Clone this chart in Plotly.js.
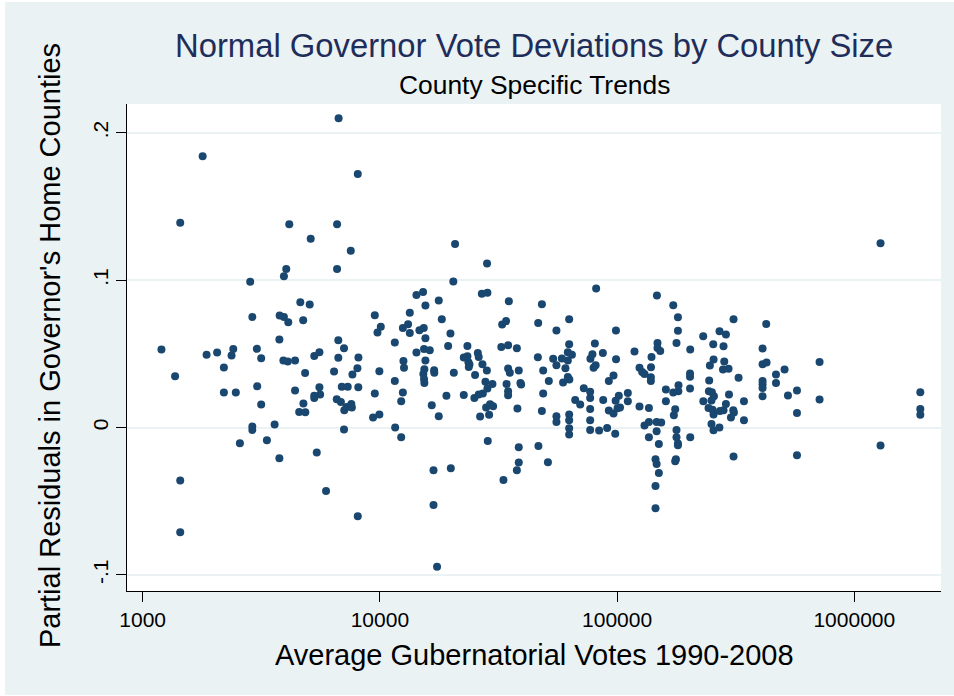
<!DOCTYPE html>
<html>
<head>
<meta charset="utf-8">
<script src="https://cdn.plot.ly/plotly-3.0.1.min.js"></script>
<style>
  html, body { margin: 0; padding: 0; background: #ffffff; }
  #chart { position: absolute; left: 5px; top: 2px; width: 949px; height: 693px; }
</style>
</head>
<body>
<div id="chart"></div>
<script>
// Average gubernatorial votes 1990-2008 (x) and partial residuals (y)
const votes = [
  6700,1790,8070,1440,4150,6600,5110,7540,4030,6600,
  3940,2840,4620,5060,2900,3780,3940,4110,4750,9520,
  10090,9770,11560,3770,6680,7060,
  1200,1860,2060,2410,2370,3030,3160,6680,8120,1370,
  2200,3920,4090,4390,5290,5560,4840,6410,7660,8040,
  9950,11560,2200,2470,3040,3160,4390,5560,5290,5600,
  5290,4760,4570,4850,6910,7320,8110,6580,6850,7580,
  7080,7620,7240,9520,9360,9950,12300,11600,12300,2900,
  2900,3600,7060,2570,3340,3770,5420,1440,5930,8070,
  1440,
  20750,28300,20400,14260,15210,15560,13370,17710,26900,28400,
  34970,48200,81600,147200,18240,12500,13150,13370,14680,15310,
  15560,19840,19400,23390,32770,34060,32500,34720,37800,46500,
  55500,62800,62800,80600,98900,14260,15350,16230,
  15560,12570,12640,15400,15250,15350,15400,16930,16960,20500,
  12500,16550,17710,19080,22580,22580,23390,23620,23860,25880,
  26100,27060,23700,25200,28250,27860,29820,28400,25030,26100,
  27170,28050,29150,30020,28870,26460,28500,16830,19910,16830,
  17420,34720,35300,38500,34200,34720,34720,39140,39400,38000,
  38500,38500,37800,33190,46350,53770,55500,58500,60560,62000,
  64500,62000,48800,51550,59200,62000,62900,48800,48200,55500,
  55500,62800,62800,62800,62800,46600,51100,66600,69900,72400,
  77000,77000,77000,77000,77000,84000,90800,98200,77200,78700,
  87100,79600,81200,99000,87400,92300,96600,100400,98600,101700,
  102900,92300,96600,111000,111000,118400,124300,127600,130500,138800,
  138800,139700,148000,148000,152000,124300,136200,130500,136200,136200,
  146800,146800,150000,145200,146800,150000,145200,145200,
  1290000,172500,180500,180500,178000,309700,425300,230700,270300,287600,
  254300,281000,203400,410500,255100,246100,283000,279500,295100,139000,
  203000,203000,244500,325200,160600,172500,181200,181500,203000,160600,
  175800,173500,153500,178000,178000,180500,180500,203400,177000,175800,
  231000,243800,251100,256000,250000,242900,252600,255100,271400,281000,
  287600,308900,310800,301900,342600,342600,296300,250000,255000,270000,
  309700,410500,426700,467600,508200,467600,410500,410500,410500,410500,
  525200,573200,573200,713800,713800,573200,1290000,1898000,1898000,1898000
];
const residuals = [
  0.2098,0.184,0.172,0.139,0.138,0.138,0.128,0.120,0.1075,0.1075,
  0.1027,0.0989,0.085,0.0835,0.075,0.076,0.075,0.0715,0.0728,0.0762,
  0.0683,0.0645,0.0577,0.0597,0.0593,0.0538,
  0.053,0.0493,0.0509,0.0532,0.0489,0.0534,0.047,0.0473,0.0475,0.0348,
  0.0407,0.0455,0.0448,0.0455,0.0486,0.0511,0.037,0.038,0.036,0.0403,
  0.0382,0.0316,0.0238,0.0238,0.028,0.0156,0.0251,0.0274,0.0201,0.0224,
  0.0215,0.0163,0.0106,0.0104,0.0276,0.0276,0.0274,0.0192,0.0174,0.016,
  0.0117,0.0136,0.014,0.0231,0.0068,0.0088,0.0179,0.0,-0.0066,0.0007,
  -0.0016,0.002,-0.0014,-0.0107,-0.0086,-0.0208,-0.017,-0.036,-0.043,-0.0602,
  -0.0711,
  0.1246,0.1113,0.0991,0.090,0.0919,0.0828,0.0778,0.0862,0.0907,0.0914,
  0.0857,0.0837,0.0944,0.0896,0.0735,0.0676,0.0701,0.0642,0.066,0.0676,
  0.0606,0.0638,0.0554,0.0554,0.0699,0.0722,0.0547,0.0559,0.0538,0.071,
  0.0658,0.0735,0.0565,0.057,0.0658,0.0509,0.0532,0.0525,
  0.0455,0.0452,0.0405,0.0396,0.0364,0.033,0.0303,0.0389,0.0371,0.0371,
  0.0238,0.0151,0.0077,0.0215,0.0221,0.0475,0.0484,0.0443,0.0428,0.0506,
  0.0479,0.043,0.0411,0.0357,0.0387,0.031,0.0296,0.0265,0.0201,0.0224,
  0.0231,0.0136,0.0158,0.0145,0.0086,0.0075,-0.0091,-0.029,-0.0276,-0.0525,
  -0.0944,0.04,0.0371,0.0387,0.0296,0.0246,0.0219,0.0303,0.0292,0.0129,
  -0.0134,-0.0238,-0.029,-0.0356,0.0477,0.0466,0.0423,0.0468,0.0403,0.0511,
  0.0493,0.0455,0.0387,0.0316,0.0305,0.0343,0.0326,0.0231,0.0113,0.0077,
  0.0038,0.0088,0.005,-0.0005,-0.0048,-0.0125,-0.0236,0.0187,0.0156,0.0267,
  0.0242,0.0201,0.0126,0.005,-0.0016,-0.002,-0.0003,-0.0043,0.0466,0.0498,
  0.0506,0.0405,0.0423,0.0464,0.0187,0.0115,0.0095,0.0131,0.0181,0.0215,
  0.0136,0.0316,0.0353,0.0235,0.0179,0.0516,0.0405,0.0377,0.0364,0.0341,
  0.0316,0.0479,0.0573,0.054,0.052,0.0143,0.0133,0.0014,0.0038,-0.0066,
  0.0038,-0.0025,-0.0111,-0.0215,-0.0247,-0.0308,-0.0396,-0.0548,
  0.1251,0.083,0.0749,0.0656,0.0574,0.0735,0.0703,0.062,0.0654,0.0631,
  0.0565,0.0552,0.053,0.0536,0.0462,0.0421,0.0448,0.0394,0.0398,0.0409,
  0.0367,0.0344,0.0319,0.0337,0.0258,0.0238,0.0246,0.0287,0.0265,0.0179,
  0.0124,0.0084,0.0034,-0.0016,-0.0066,-0.0109,-0.012,-0.0066,-0.0215,-0.0229,
  0.0179,0.0246,0.024,0.0212,0.0183,0.0133,0.012,0.0088,0.0113,0.0117,
  0.016,0.0117,0.0102,0.0068,0.0179,0.005,0.0224,0.0024,-0.0018,0.0,
  -0.0197,0.043,0.0441,0.036,0.0394,0.0303,0.0316,0.0294,0.0269,0.0212,
  0.0217,0.0251,0.0099,0.0445,0.019,-0.0188,-0.0122,0.024,0.0126,0.0086
];

const xTickVals = [1000, 10000, 100000, 1000000];
const xTickText = ["1000", "10000", "100000", "1000000"];
const yTickVals = [-0.1, 0, 0.1, 0.2];
const yTickText = ["-.1", "0", ".1", ".2"];

const titleText = "Normal Governor Vote Deviations by County Size";
const subtitleText = "County Specific Trends";
const xTitleText = "Average Gubernatorial Votes 1990-2008";
const yTitleText = "Partial Residuals in Governor's Home Counties";

const FONT = "Liberation Sans, Arial, Helvetica, sans-serif";

const trace = {
  type: "scatter",
  mode: "markers",
  x: votes,
  y: residuals,
  marker: { color: "#1a476f", size: 8, line: { width: 0 } },
  hoverinfo: "skip"
};

const layout = {
  width: 949,
  height: 693,
  paper_bgcolor: "#eaf2f3",
  plot_bgcolor: "#ffffff",
  margin: { l: 122, r: 13, t: 102, b: 104, pad: 0 },
  showlegend: false,
  font: { family: FONT, color: "#000000" },
  xaxis: {
    type: "log",
    range: [Math.log10(859), Math.log10(2.32e6)],
    tickmode: "array",
    tickvals: xTickVals,
    ticktext: xTickText,
    ticks: "outside",
    ticklen: 10,
    tickwidth: 1,
    tickcolor: "#000000",
    showline: true,
    linecolor: "#000000",
    linewidth: 1,
    showgrid: false,
    zeroline: false,
    tickfont: { family: FONT, size: 21, color: "#000000" }
  },
  yaxis: {
    range: [-0.1109, 0.2195],
    tickmode: "array",
    tickvals: yTickVals,
    ticktext: yTickText,
    tickangle: -90,
    ticks: "outside",
    ticklen: 10,
    tickwidth: 1,
    tickcolor: "#000000",
    showline: true,
    linecolor: "#000000",
    linewidth: 1,
    showgrid: true,
    gridcolor: "#eaf2f3",
    gridwidth: 2,
    zeroline: false,
    tickfont: { family: FONT, size: 21, color: "#000000" }
  },
  annotations: [
    { text: titleText, xref: "paper", yref: "paper", x: 0.5, y: 1.121,
      xanchor: "center", yanchor: "middle", showarrow: false,
      font: { family: FONT, size: 32.8, color: "#1f2d5b" } },
    { text: subtitleText, xref: "paper", yref: "paper", x: 0.5, y: 1.038,
      xanchor: "center", yanchor: "middle", showarrow: false,
      font: { family: FONT, size: 26.4, color: "#000000" } },
    { text: xTitleText, xref: "paper", yref: "paper", x: 0.5, y: -0.131,
      xanchor: "center", yanchor: "middle", showarrow: false,
      font: { family: FONT, size: 29, color: "#000000" } },
    { text: yTitleText, xref: "paper", yref: "paper", x: -0.0946, y: 0.505,
      xanchor: "center", yanchor: "middle", showarrow: false, textangle: -90,
      font: { family: FONT, size: 29, color: "#000000" } }
  ]
};

Plotly.newPlot("chart", [trace], layout, { staticPlot: true, displayModeBar: false });
</script>
</body>
</html>
